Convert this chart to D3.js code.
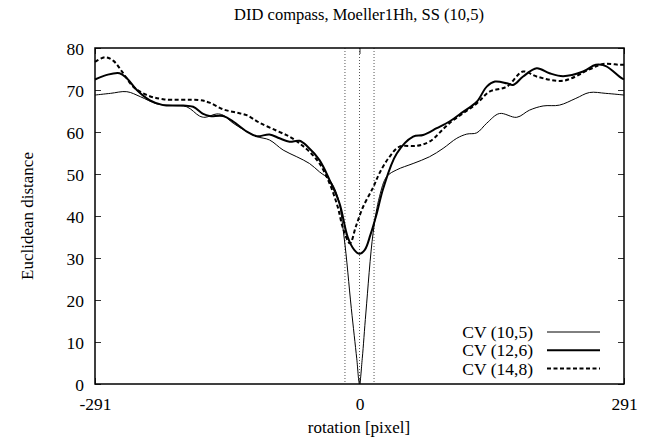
<!DOCTYPE html>
<html><head><meta charset="utf-8">
<script src="https://cdn.jsdelivr.net/npm/d3@7/dist/d3.min.js"></script>
<style>body{margin:0;background:#fff}svg{display:block}text{font-family:"Liberation Serif","Times New Roman",serif;fill:#000}</style>
</head><body><svg id="c" width="646" height="446"></svg>
<script>
const title = "DID compass, Moeller1Hh, SS (10,5)";
const xLabel = "rotation [pixel]";
const yLabel = "Euclidean distance";
const xTicks = [-291, 0, 291];
const yTicks = [0, 10, 20, 30, 40, 50, 60, 70, 80];
const markers = [-16, 0, 16];
const seriesNames = ["CV (10,5)", "CV (12,6)", "CV (14,8)"];

const xThin = [-291,-274,-256,-241,-223,-205,-190,-176,-170,-157,-150,-139,-124,-113,-99,-84,-69,-55,-44,-33,-24,-17,-9,-3,0,3,7,15,22,30,41,59,77,92,107,118,129,140,154,173,187,202,220,238,253,271,291];
const yThin = [68.8,69.2,69.6,68.4,66.7,66.3,66.0,63.8,63.5,64.3,64.0,62.1,60.1,58.9,58.1,55.7,54.1,52.5,50.5,48.6,44.6,35.0,18.0,6.0,0,6.0,16.9,36.0,44.6,49.4,51.0,52.5,54.1,56.1,58.5,59.5,59.8,62.1,64.4,63.5,65.2,66.2,66.4,68.0,69.4,69.2,68.8];

const xThick = [-291,-278,-264,-256,-245,-231,-216,-194,-183,-172,-165,-150,-139,-124,-113,-99,-88,-77,-66,-57,-44,-33,-22,-13,-6,0,6,12,19,26,41,59,70,85,99,114,129,140,149,162,169,180,195,209,224,246,260,271,286,291];
const yThick = [72.5,73.6,74.0,72.8,70.0,67.6,66.4,66.3,66.0,64.3,63.8,63.8,62.5,60.1,59.0,59.4,58.5,57.7,57.9,56.5,53.3,48.6,43.0,35.0,32.0,31.0,32.0,35.5,40.6,46.5,54.9,58.9,59.3,60.9,62.5,64.8,67.2,70.8,72.0,71.6,71.2,73.2,75.2,74.0,73.3,74.4,76.0,75.7,73.2,72.5];

const xDash = [-291,-280,-271,-260,-249,-234,-216,-176,-165,-150,-135,-124,-110,-91,-77,-66,-55,-44,-33,-24,-18,-10.5,-4,4,15,22,33,44,63,77,99,129,143,162,180,195,224,253,268,286,291];
const yDash = [76.7,77.8,77.0,74.0,70.8,68.8,67.8,67.6,67.0,65.4,64.6,64.0,62.2,60.3,58.9,57.3,55.3,52.5,47.8,42.2,37.0,33.5,37.5,42.2,46.8,50.2,54.1,56.5,56.7,57.7,62.1,66.8,69.6,70.8,74.4,73.2,72.2,74.9,76.2,76.0,76.0];

const m = {l: 95, r: 624, t: 48, b: 384};
const svg = d3.select("#c");
const x = d3.scaleLinear().domain([-291, 291]).range([m.l, m.r]);
const y = d3.scaleLinear().domain([0, 80]).range([m.b, m.t]);

svg.append("text").attr("x", 359).attr("y", 20).attr("text-anchor", "middle")
  .style("font-size", "16.5px").text(title);

svg.append("g").selectAll("line").data(markers).join("line")
  .attr("x1", d => x(d)).attr("x2", d => x(d)).attr("y1", m.t).attr("y2", m.b)
  .attr("stroke", "#555").attr("stroke-width", 1).attr("stroke-dasharray", "1,2");

const tl = 6;
const fmt = d => String(d);
const axL = svg.append("g").attr("transform", `translate(${m.l},0)`)
  .call(d3.axisLeft(y).tickValues(yTicks).tickSize(-tl).tickPadding(11).tickFormat(fmt));
const axR = svg.append("g").attr("transform", `translate(${m.r},0)`)
  .call(d3.axisRight(y).tickValues(yTicks).tickSize(-tl).tickFormat(""));
const axB = svg.append("g").attr("transform", `translate(0,${m.b})`)
  .call(d3.axisBottom(x).tickValues(xTicks).tickSize(-tl).tickPadding(14).tickFormat(fmt));
const axT = svg.append("g").attr("transform", `translate(0,${m.t})`)
  .call(d3.axisTop(x).tickValues(xTicks).tickSize(-tl).tickFormat(""));
[axL, axR, axB, axT].forEach(a => {
  a.select(".domain").remove();
  a.selectAll(".tick line").attr("stroke", "#333").attr("stroke-width", 1);
  a.selectAll("text").style("font-size", "17.5px").style("font-family", "Liberation Serif, serif").attr("fill", "#000");
});
axL.selectAll("text").attr("dy", "0.35em");
axB.selectAll("text").attr("dy", "0.71em");

const line = (xs, ys) => d3.line().x((d, i) => x(xs[i])).y((d, i) => y(ys[i])).curve(d3.curveCatmullRom.alpha(0.5))(ys);
svg.append("path").attr("d", line(xThin, yThin)).attr("fill", "none").attr("stroke", "#000").attr("stroke-width", 1);
svg.append("path").attr("d", line(xThick, yThick)).attr("fill", "none").attr("stroke", "#000").attr("stroke-width", 2);
svg.append("path").attr("d", line(xDash, yDash)).attr("fill", "none").attr("stroke", "#000").attr("stroke-width", 2).attr("stroke-dasharray", "4,2.5");

svg.append("rect").attr("x", m.l).attr("y", m.t).attr("width", m.r - m.l).attr("height", m.b - m.t)
  .attr("fill", "none").attr("stroke", "#000").attr("stroke-width", 1.5);

const styles = [{w: 1, da: null}, {w: 2, da: null}, {w: 2, da: "4,2.5"}];
const lg = svg.append("g");
seriesNames.forEach((n, i) => {
  const cy = 332 + i * 18.3;
  lg.append("text").attr("x", 533).attr("y", cy).attr("dy", "0.35em").attr("text-anchor", "end")
    .style("font-size", "17.5px").text(n);
  lg.append("line").attr("x1", 547).attr("x2", 600).attr("y1", cy).attr("y2", cy)
    .attr("stroke", "#000").attr("stroke-width", styles[i].w).attr("stroke-dasharray", styles[i].da);
});

svg.append("text").attr("x", 359).attr("y", 433).attr("text-anchor", "middle").style("font-size", "17px").text(xLabel);
svg.append("text").attr("transform", "translate(33,216) rotate(-90)").attr("text-anchor", "middle").style("font-size", "17px").text(yLabel);
</script></body></html>
